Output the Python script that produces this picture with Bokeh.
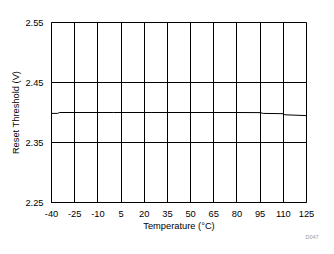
from bokeh.plotting import figure
from bokeh.models import Range1d, FixedTicker, Title
from bokeh.embed import file_html
from bokeh.resources import INLINE

temperature = [-40, -36, -35, 0, 25, 50, 80, 95, 97, 110, 111, 125]
threshold = [2.3985, 2.3985, 2.4000, 2.4000, 2.4000, 2.4000, 2.4000, 2.3998, 2.3985, 2.3980, 2.3962, 2.3948]

x_ticks = [-40, -25, -10, 5, 20, 35, 50, 65, 80, 95, 110, 125]
y_ticks = [2.25, 2.35, 2.45, 2.55]

FONT = "Liberation Sans"
FS = "9.3px"

p = figure(width=334, height=254, output_backend="svg", toolbar_location=None,
           x_range=Range1d(-40, 125), y_range=Range1d(2.25, 2.55),
           min_border_left=51, min_border_right=28, min_border_top=22, min_border_bottom=52)
p.background_fill_color = "white"
p.border_fill_color = "white"
p.outline_line_color = "black"
p.outline_line_width = 1

p.line(temperature, threshold, line_color="black", line_width=1)

p.xaxis.ticker = FixedTicker(ticks=x_ticks)
p.yaxis.ticker = FixedTicker(ticks=y_ticks)
p.xaxis.major_label_overrides = {t: str(t) for t in x_ticks}
p.yaxis.major_label_overrides = {t: "%.2f" % t for t in y_ticks}

for ax in (p.xaxis, p.yaxis):
    ax.major_tick_line_color = None
    ax.minor_tick_line_color = None
    ax.axis_line_color = "black"
    ax.major_label_text_font = FONT
    ax.major_label_text_font_size = FS
    ax.major_label_text_color = "black"
    ax.axis_label_text_font = FONT
    ax.axis_label_text_font_size = FS
    ax.axis_label_text_font_style = "normal"
    ax.axis_label_text_color = "black"

p.xaxis.axis_label = "Temperature (°C)"
p.yaxis.axis_label = "Reset Threshold (V)"
p.xaxis.major_label_standoff = 2
p.yaxis.major_label_standoff = 2
p.xaxis.axis_label_standoff = 1
p.yaxis.axis_label_standoff = 1

p.xgrid.grid_line_color = "black"
p.ygrid.grid_line_color = "black"
p.xgrid.grid_line_width = 1
p.ygrid.grid_line_width = 1

p.add_layout(Title(text="D047", align="left", offset=254, standoff=0,
                   vertical_align="top", text_line_height=0.8,
                   text_font=FONT, text_font_size="5.4px", text_font_style="normal",
                   text_color="#999999"), "below")

open("out.html", "w").write(file_html(p, INLINE))
